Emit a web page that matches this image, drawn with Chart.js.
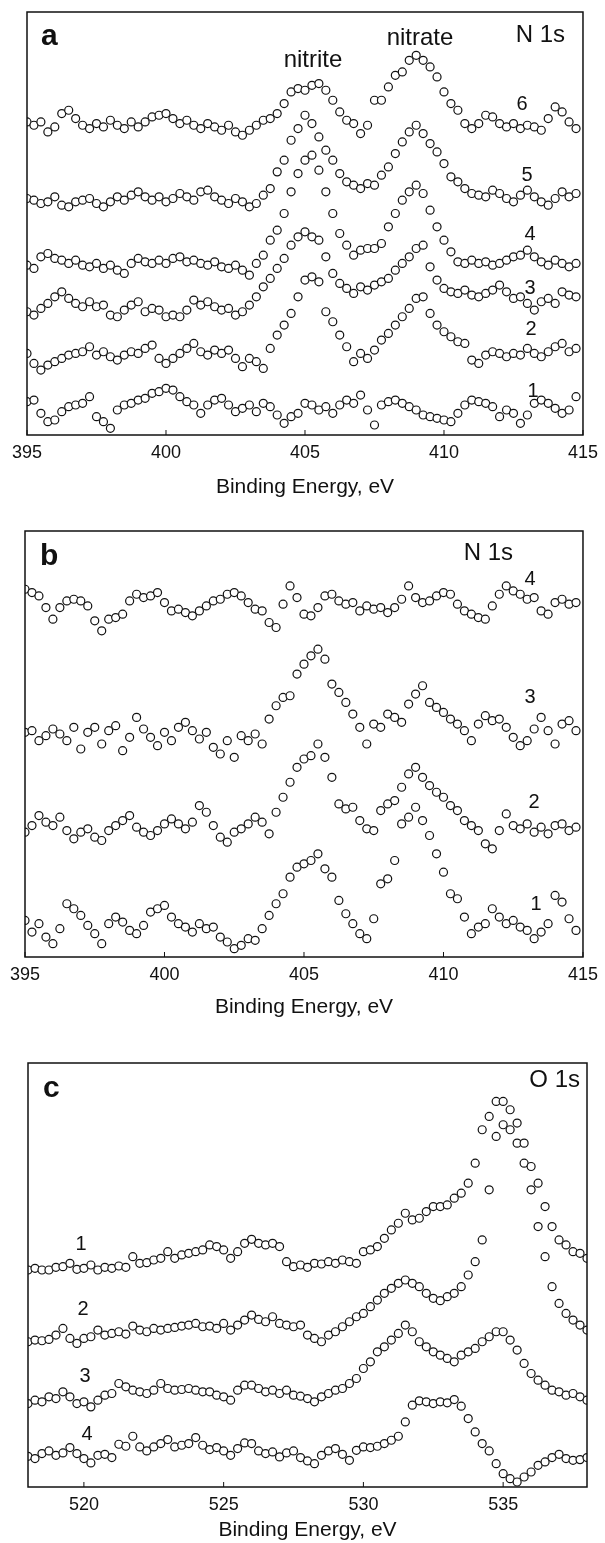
<!DOCTYPE html>
<html>
<head>
<meta charset="utf-8">
<script src="https://cdn.jsdelivr.net/npm/chart.js@4.4.0/dist/chart.umd.min.js"></script>
<style>
  html, body { margin: 0; padding: 0; background: #fff; }
  body { width: 605px; height: 1543px; position: relative; overflow: hidden; }
  canvas { position: absolute; left: 0; }
</style>
</head>
<body>
<canvas id="panel-a" width="605" height="500" style="top:0px"></canvas>
<canvas id="panel-b" width="605" height="510" style="top:510px"></canvas>
<canvas id="panel-c" width="605" height="513" style="top:1030px"></canvas>
<script>
// XPS spectra, N 1s (a, b) and O 1s (c); intensities in arbitrary units

const n1sEnergy = [
  395, 395.25, 395.5, 395.75, 396, 396.25, 396.5, 396.75, 397, 397.25, 397.5, 397.75,
  398, 398.25, 398.5, 398.75, 399, 399.25, 399.5, 399.75, 400, 400.25, 400.5, 400.75,
  401, 401.25, 401.5, 401.75, 402, 402.25, 402.5, 402.75, 403, 403.25, 403.5, 403.75,
  404, 404.25, 404.5, 404.75, 405, 405.25, 405.5, 405.75, 406, 406.25, 406.5, 406.75,
  407, 407.25, 407.5, 407.75, 408, 408.25, 408.5, 408.75, 409, 409.25, 409.5, 409.75,
  410, 410.25, 410.5, 410.75, 411, 411.25, 411.5, 411.75, 412, 412.25, 412.5, 412.75,
  413, 413.25, 413.5, 413.75, 414, 414.25, 414.5, 414.75
];
const o1sEnergy = [
  518, 518.25, 518.5, 518.75, 519, 519.25, 519.5, 519.75, 520, 520.25, 520.5, 520.75,
  521, 521.25, 521.5, 521.75, 522, 522.25, 522.5, 522.75, 523, 523.25, 523.5, 523.75,
  524, 524.25, 524.5, 524.75, 525, 525.25, 525.5, 525.75, 526, 526.25, 526.5, 526.75,
  527, 527.25, 527.5, 527.75, 528, 528.25, 528.5, 528.75, 529, 529.25, 529.5, 529.75,
  530, 530.25, 530.5, 530.75, 531, 531.25, 531.5, 531.75, 532, 532.25, 532.5, 532.75,
  533, 533.25, 533.5, 533.75, 534, 534.25, 534.5, 534.75, 535, 535.25, 535.5, 535.75,
  536, 536.25, 536.5, 536.75, 537, 537.25, 537.5, 537.75, 538
];
const n1sTicks = [395, 400, 405, 410, 415];
const o1sTicks = [520, 525, 530, 535];

// panel a, spectra 1-6 (bottom to top)
const a1 = [100,105,65,40,45,70,85,90,95,115,55,40,20,75,90,95,105,110,125,130,140,135,115,100,90,65,90,105,110,90,70,80,90,70,95,85,60,35,55,65,95,90,75,85,65,90,105,95,120,75,30,90,100,105,95,85,75,60,55,50,45,40,65,90,105,100,95,85,55,75,65,35,60,95,105,95,80,65,75,115];
const a2 = [245,215,195,210,220,230,240,245,250,265,240,250,235,225,240,250,245,260,270,230,215,230,245,260,275,250,240,255,245,255,230,205,230,220,200,260,300,330,365,415,465,475,460,370,340,300,265,220,245,230,255,285,305,330,355,380,410,415,365,330,310,295,280,275,225,215,240,250,245,235,245,240,260,245,235,250,265,275,250,260];
const a3 = [370,360,380,395,415,430,410,395,385,400,385,390,360,355,375,390,400,370,380,375,355,360,355,375,405,390,400,385,375,380,360,370,390,415,445,470,500,530,570,595,610,595,585,535,485,455,440,425,445,435,450,460,470,495,515,535,560,570,505,465,440,430,425,435,420,415,425,435,450,430,410,415,395,375,400,410,395,430,420,415];
const a4 = [510,500,535,545,530,525,515,525,510,505,515,500,510,495,485,515,530,520,515,525,515,530,535,520,525,515,510,520,505,500,510,495,480,515,540,585,615,665,730,785,825,840,795,730,665,605,570,540,555,560,560,575,625,665,705,730,750,725,675,625,585,550,520,515,525,515,520,510,515,525,535,540,555,535,520,510,525,515,505,515];
const a5 = [710,705,695,700,715,690,685,700,705,710,695,685,700,715,705,720,730,715,705,715,700,710,725,715,705,730,735,715,705,695,710,700,685,695,720,740,790,825,885,920,960,935,895,855,825,785,760,750,740,755,750,780,805,845,880,910,930,905,875,850,815,775,760,740,725,720,715,735,725,710,700,720,735,715,700,690,710,730,715,725];
const a6 = [940,930,940,910,925,965,975,950,930,920,935,925,945,930,920,940,925,940,955,960,965,950,935,945,930,920,935,925,915,930,910,900,915,930,945,950,965,995,1030,1040,1035,1050,1055,1035,1005,970,945,935,905,930,1005,1005,1045,1080,1090,1125,1140,1125,1105,1075,1030,995,975,935,920,935,960,955,935,925,935,920,930,925,915,950,985,970,940,920];

// panel b, spectra 1-4
const b1 = [110,75,100,60,40,85,160,145,125,95,70,40,100,120,105,80,70,95,135,145,155,120,100,90,75,100,85,90,60,45,25,35,55,50,85,125,160,190,240,270,280,290,310,265,240,170,130,100,70,55,115,220,235,290,400,420,450,410,365,310,255,190,175,120,70,90,100,145,120,100,110,90,80,55,75,100,185,165,115,80];
const b2 = [375,395,425,405,395,420,380,355,375,385,360,350,380,395,410,425,390,375,365,380,400,415,400,385,405,455,435,395,360,345,375,385,400,420,405,370,435,480,525,570,595,605,640,600,540,460,445,450,410,385,380,440,460,470,510,550,570,540,515,495,480,455,440,410,395,380,340,325,380,430,395,385,400,375,390,370,395,400,380,390];
const b3 = [675,680,650,665,685,670,650,690,625,675,690,640,680,695,620,660,720,685,660,635,675,650,690,705,680,655,675,630,610,650,600,665,650,670,640,715,755,780,785,850,880,905,925,895,820,795,765,730,690,640,700,690,730,720,705,760,790,815,765,750,735,715,700,680,650,700,725,710,715,690,660,635,650,685,720,680,640,700,710,680];
const b4 = [1105,1095,1085,1050,1015,1050,1070,1075,1070,1055,1010,980,1015,1020,1030,1070,1090,1080,1085,1095,1065,1040,1045,1035,1025,1040,1055,1070,1075,1090,1095,1085,1065,1045,1040,1005,990,1060,1115,1080,1030,1025,1050,1085,1090,1070,1060,1065,1040,1055,1045,1050,1035,1050,1075,1115,1080,1065,1070,1085,1095,1090,1060,1040,1030,1020,1015,1055,1090,1115,1100,1090,1075,1080,1040,1030,1065,1075,1060,1065];

// panel c, spectra 1-4 (top to bottom)
const c1 = [650,655,650,650,658,660,670,652,655,665,650,658,655,662,658,690,670,672,680,685,705,685,695,700,705,710,725,720,710,685,705,730,742,730,725,730,720,675,660,665,658,670,668,675,670,680,675,670,705,710,720,745,770,790,820,800,805,825,840,840,845,865,880,910,970,1070,1110,1155,1155,1130,1090,1030,960,910,840,780,740,725,705,700,685];
const c2 = [435,440,438,442,455,475,445,430,445,450,470,455,460,465,458,482,470,465,475,470,475,478,482,485,490,480,482,475,490,470,485,500,515,502,495,510,490,485,480,485,455,445,435,455,465,480,495,510,520,540,560,580,595,610,620,610,600,580,565,558,570,580,600,635,675,740,890,1050,1085,1070,1030,970,890,780,690,600,550,520,500,485,470];
const c3 = [250,260,255,270,265,285,270,250,255,240,260,275,280,310,300,290,285,280,290,310,295,290,292,295,290,285,285,275,270,260,290,305,305,295,285,290,280,290,275,272,265,255,270,280,290,295,310,325,355,375,405,420,440,460,485,465,435,420,405,395,385,375,395,405,415,435,450,465,465,440,410,370,340,320,305,290,285,275,280,270,260];
const c4 = [92,85,100,108,95,102,118,100,85,72,95,98,88,128,122,152,120,108,120,130,142,120,125,130,148,125,112,118,108,95,115,132,130,108,100,105,90,102,108,88,78,70,95,108,115,98,80,110,120,118,122,130,140,152,195,245,258,255,250,255,252,262,242,205,165,130,108,70,40,25,15,30,45,65,75,88,98,85,80,82,88];

const FONT = '"Liberation Sans", Arial, Helvetica, sans-serif';
const INK = '#111';

function toPoints(energy, counts) {
    return counts.map((c, i) => ({ x: energy[i], y: c }));
}

// box round the plot, inward tick marks and the text labels
const panelFrame = {
    id: 'panelFrame',
    afterDatasetsDraw(chart, args, opts) {
        const { ctx, chartArea: area, scales: { x } } = chart;
        ctx.save();
        ctx.strokeStyle = INK;
        ctx.lineWidth = 1.5;
        ctx.strokeRect(area.left, area.top, area.right - area.left, area.bottom - area.top);
        ctx.lineWidth = 1;
        x.ticks.forEach(t => {
            const px = x.getPixelForValue(t.value);
            ctx.beginPath();
            ctx.moveTo(px, area.bottom);
            ctx.lineTo(px, area.bottom - 5);
            ctx.stroke();
        });
        ctx.fillStyle = INK;
        ctx.textBaseline = 'alphabetic';
        (opts.labels || []).forEach(l => {
            ctx.font = l.font;
            ctx.textAlign = l.align || 'center';
            ctx.fillText(l.text, l.x, l.y - opts.offset);
        });
        ctx.restore();
    }
};

function renderPanel(id, cfg) {
    const canvas = document.getElementById(id);
    const offset = parseFloat(canvas.style.top);
    return new Chart(canvas, {
        type: 'scatter',
        data: {
            datasets: cfg.series.map(s => ({
                data: toPoints(cfg.energy, s),
                showLine: false,
                pointRadius: 4,
                pointBackgroundColor: '#fff',
                pointBorderColor: INK,
                pointBorderWidth: 1.2
            }))
        },
        options: {
            responsive: false,
            animation: false,
            events: [],
            layout: {
                autoPadding: false,
                padding: { left: cfg.left, right: 605 - cfg.right, top: cfg.top - offset, bottom: 0 }
            },
            plugins: {
                legend: { display: false },
                tooltip: { enabled: false },
                panelFrame: { labels: cfg.labels, offset: offset }
            },
            scales: {
                x: {
                    type: 'linear',
                    min: cfg.min,
                    max: cfg.max,
                    afterBuildTicks: axis => { axis.ticks = cfg.ticks.map(v => ({ value: v })); },
                    afterFit: axis => { axis.height = cfg.axisHeight; },
                    grid: { display: false, drawTicks: false },
                    border: { display: false },
                    ticks: { color: INK, padding: 7, font: { family: FONT, size: 18 } },
                    title: {
                        display: true,
                        text: 'Binding Energy, eV',
                        color: INK,
                        padding: { top: 0, bottom: 0 },
                        font: { family: FONT, size: 21 }
                    }
                },
                y: { display: false, min: 0, max: cfg.yMax }
            }
        },
        plugins: [panelFrame]
    });
}

const bold30 = 'bold 30px ' + FONT;
const txt24 = '24px ' + FONT;
const num20 = '20px ' + FONT;

renderPanel('panel-a', {
    energy: n1sEnergy, ticks: n1sTicks, min: 395, max: 415,
    series: [a1, a2, a3, a4, a5, a6], yMax: 1270,
    left: 27, right: 587, top: 12, axisHeight: 65,
    labels: [
        { text: 'a', x: 41, y: 45, font: bold30, align: 'left' },
        { text: 'nitrite', x: 313, y: 67, font: txt24 },
        { text: 'nitrate', x: 420, y: 45, font: txt24 },
        { text: 'N 1s', x: 565, y: 42, font: txt24, align: 'right' },
        { text: '6', x: 522, y: 110, font: num20 },
        { text: '5', x: 527, y: 181, font: num20 },
        { text: '4', x: 530, y: 240, font: num20 },
        { text: '3', x: 530, y: 294, font: num20 },
        { text: '2', x: 531, y: 335, font: num20 },
        { text: '1', x: 533, y: 397, font: num20 }
    ]
});

renderPanel('panel-b', {
    energy: n1sEnergy, ticks: n1sTicks, min: 395, max: 415,
    series: [b1, b2, b3, b4], yMax: 1280,
    left: 25, right: 583, top: 531, axisHeight: 63,
    labels: [
        { text: 'b', x: 40, y: 565, font: bold30, align: 'left' },
        { text: 'N 1s', x: 513, y: 560, font: txt24, align: 'right' },
        { text: '4', x: 530, y: 585, font: num20 },
        { text: '3', x: 530, y: 703, font: num20 },
        { text: '2', x: 534, y: 808, font: num20 },
        { text: '1', x: 536, y: 910, font: num20 }
    ]
});

renderPanel('panel-c', {
    energy: o1sEnergy, ticks: o1sTicks, min: 518, max: 538,
    series: [c1, c2, c3, c4], yMax: 1270,
    left: 28, right: 587, top: 1063, axisHeight: 56,
    labels: [
        { text: 'c', x: 43, y: 1097, font: bold30, align: 'left' },
        { text: 'O 1s', x: 580, y: 1087, font: txt24, align: 'right' },
        { text: '1', x: 81, y: 1250, font: num20 },
        { text: '2', x: 83, y: 1315, font: num20 },
        { text: '3', x: 85, y: 1382, font: num20 },
        { text: '4', x: 87, y: 1440, font: num20 }
    ]
});
</script>
</body>
</html>
